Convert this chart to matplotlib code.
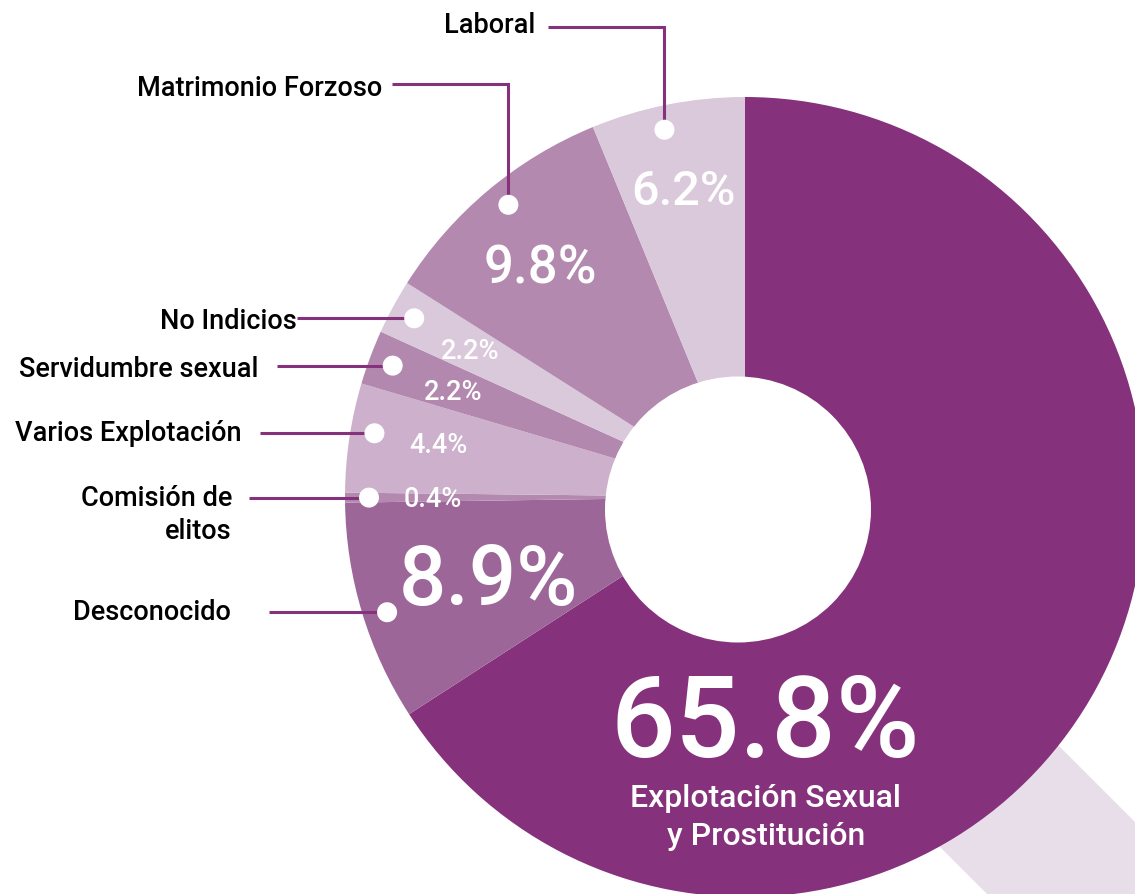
import matplotlib
matplotlib.use("Agg")
import matplotlib.pyplot as plt
from matplotlib.patches import Circle, Polygon
import numpy as np

# ---------------- data ----------------
categories = ["Explotación Sexual y Prostitución", "Desconocido", "Comisión de elitos",
              "Varios Explotación", "Servidumbre sexual", "No Indicios",
              "Matrimonio Forzoso", "Laboral"]
values = [65.8, 8.9, 0.4, 4.4, 2.2, 2.2, 9.8, 6.2]
pct_labels = ["65.8%", "8.9%", "0.4%", "4.4%", "2.2%", "2.2%", "9.8%", "6.2%"]
label_lines = [["Explotación Sexual", "y Prostitución"], ["Desconocido"], ["Comisión de", "elitos"],
               ["Varios Explotación"], ["Servidumbre sexual"], ["No Indicios"],
               ["Matrimonio Forzoso"], ["Laboral"]]

# ---------------- styles / layout ----------------
colors = ["#85317C", "#9D6698", "#B389AF", "#CCB0CC", "#B388AF", "#DAC8DB", "#B389AF", "#DAC8DB"]
PURPLE = "#85317C"
HANDLE = "#E8DEEA"
FONT = ["Roboto", "DejaVu Sans"]
W, H = 1135, 894


def Y(p):
    return H - p


CX, CY, R = 745, 497, 400
HOLE_C, HOLE_R = (738, 509.5), 133
DOT_R, DOT_DIST = 10, 376

# per-category pct text layout: (center x, baseline px, fontsize)
pct_layout = [(765, 757, 82), (488, 605, 60), (433, 507, 19.5), (438, 453, 19.5),
              (453, 400, 19.5), (470, 359, 19.5), (540, 283, 38), (683, 205, 35)]
# per-category dot angle nudge (deg) and callout layout
dot_nudge = [0, 1.0, 0, -1.2, 0, 0, -1.0, 1.2]
callout_layout = [None,
                  (231, [620], 269, None),
                  (232, [506, 539], 249, None),
                  (242, [441], 260, None),
                  (258, [377], 277, None),
                  (297, [329], 297, None),
                  (382, [96], 392, 84),
                  (535, [33], 548, 27)]

fig = plt.figure(figsize=(W / 100, H / 100), dpi=100)
ax = fig.add_axes([0, 0, 1, 1])

# decorative magnifier handle
handle = Polygon([(900, Y(587)), (1300, Y(987)), (1300, Y(1207)), (750, Y(657))],
                 closed=True, facecolor=HANDLE, edgecolor="none", zorder=0)
ax.add_patch(handle)

wedges, _ = ax.pie(values, colors=colors, startangle=90, counterclock=False,
                   center=(CX, Y(CY)), radius=R,
                   wedgeprops=dict(linewidth=0, zorder=1))

ax.add_patch(Circle((HOLE_C[0], Y(HOLE_C[1])), HOLE_R, facecolor="white",
                    edgecolor="none", zorder=2))

for i, w in enumerate(wedges):
    cx, base, fs = pct_layout[i]
    ax.text(cx, Y(base), pct_labels[i], ha="center", va="baseline", color="white",
            fontsize=fs, fontweight="medium", family=FONT, zorder=5)
    if i == 0:
        for ln, b in zip(label_lines[0], [807, 845]):
            ax.text(766, Y(b), ln, ha="center", va="baseline", color="white",
                    fontsize=23, fontweight="medium", family=FONT, zorder=5)
        continue
    mid = np.deg2rad((w.theta1 + w.theta2) / 2 + dot_nudge[i])
    dx = CX + DOT_DIST * np.cos(mid)
    dy = Y(CY) + DOT_DIST * np.sin(mid)
    tx, bases, lx, elbow = callout_layout[i]
    if elbow is None:
        ax.plot([lx, dx], [dy, dy], color=PURPLE, lw=2.2, solid_capstyle="butt", zorder=3)
    else:
        ax.plot([lx, dx, dx], [Y(elbow), Y(elbow), dy], color=PURPLE, lw=2.2,
                solid_capstyle="butt", solid_joinstyle="miter", zorder=3)
    ax.add_patch(Circle((dx, dy), DOT_R, facecolor="white", edgecolor="none", zorder=4))
    for ln, b in zip(label_lines[i], bases):
        ax.text(tx, Y(b), ln, ha="right", va="baseline", color="black",
                fontsize=19.5, fontweight=560, family=FONT, zorder=5)

ax.set_xlim(0, W)
ax.set_ylim(0, H)
ax.set_aspect("auto")
ax.axis("off")
fig.savefig("out.png", dpi=100, facecolor="white")
